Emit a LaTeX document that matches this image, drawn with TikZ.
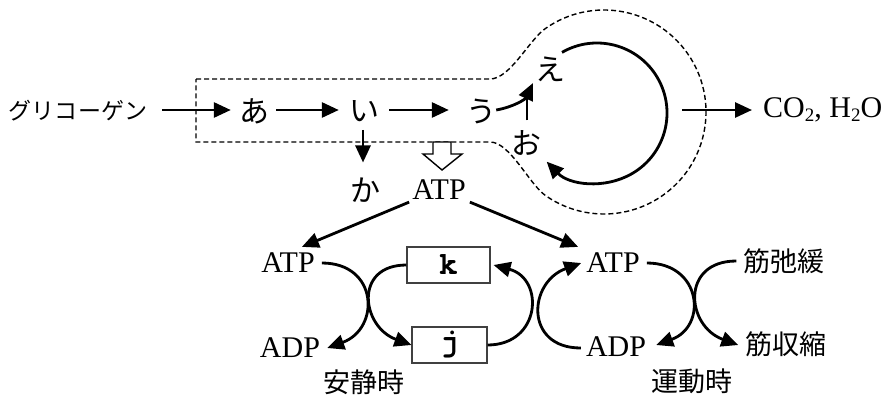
\documentclass[tikz,border=0pt]{standalone}
\usepackage{fontspec}
\setmainfont{Liberation Serif}
\newfontfamily\jpfont{Noto Sans CJK JP}
\newfontfamily\mymono{TeX Gyre Cursor}
\usetikzlibrary{arrows.meta,calc}
\newcommand{\lsub}[1]{\raisebox{-0.12em}{\fontsize{19}{19}\selectfont #1}}
\begin{document}
\begin{tikzpicture}[x=1pt,y=1pt,
 lat/.style={inner sep=0pt, font=\fontsize{30}{30}\selectfont},
 jp/.style={inner sep=0pt, font=\jpfont\fontsize{27}{27}\selectfont},
 hira/.style={inner sep=0pt, font=\jpfont\fontsize{30}{30}\selectfont},
 arr/.style={line width=2.8pt, -{Triangle[length=17pt,width=15pt]}},
 crv/.style={line width=2.8pt},
 box/.style={draw=black!75, line width=1.1pt, inner sep=0pt, minimum height=36pt, font=\mymono\bfseries\fontsize{32}{32}\selectfont},
 outline/.style={line width=1.4pt, dash pattern=on 5pt off 3pt},
]
\useasboundingbox (0,0) rectangle (890,-397);

% top row
\node[inner sep=0pt, font=\jpfont\fontsize{23}{23}\selectfont] (gly) at (78,-111) {グリコーゲン};
\node[hira] (a) at (254,-111) {あ};
\node[hira] (i) at (364,-111) {い};
\node[hira] (u) at (481,-111) {う};
\node[hira] (e) at (550,-69) {え};
\node[hira] (o) at (526,-143) {お};
\node[hira] (ka) at (365,-190) {か};
\node[lat] (atp0) at (439,-190) {ATP};
\node[lat, anchor=west] (co) at (763,-110) {CO\lsub{2}, H\lsub{2}O};

\coordinate (cyc) at (597,-113);
\coordinate (dcyc) at (604,-112);
\coordinate (cout) at (682,-110);

% dashed outline
\draw[outline] (196,-79) -- (490,-79) .. controls (510,-79) and (529,-40) .. ($(dcyc)+(125:102)$)
  arc[start angle=125, end angle=-125, radius=102]
  .. controls (529,-184) and (510,-142) .. (490,-142) -- (196,-142) -- cycle;

% hollow arrow
\draw[line width=1.4pt, fill=white] (433,-142) -- (451,-142) -- (451,-154) -- (462,-154) -- (442,-170) -- (423,-154) -- (433,-154) -- cycle;

% top arrows
\draw[arr] ($(gly.east)+(15,1)$) -- ($(a.west)+(-8,1)$);
\draw[arr] ($(a.east)+(7,1)$) -- ($(i.west)+(-10,1)$);
\draw[arr] ($(i.east)+(10,1)$) -- ($(u.west)+(-17,1)$);
\draw[arr] ($(u.east)+(0,1)$) to[out=10,in=-115] ($(e.center)+(-17,-14)$);
\draw[crv] ($(o.north)+(1,10)$) -- ($(o.north)+(1,37)$);
\draw[arr] ($(cyc)+(120:70)$) arc[start angle=120, end angle=-136, radius=70];
\draw[arr] (cout) -- ($(co.west)+(-11,0)$);
\draw[arr] ($(i.south)+(-1,-8)$) -- ($(ka.north)+(-2,15)$);

% lower part
\node[lat] (atpL) at (288,-263) {ATP};
\node[lat] (adpL) at (290,-348) {ADP};
\node[box, minimum width=83pt] (k) at (448.5,-265) {k};
\node[box, minimum width=75pt] (j) at (449.5,-345) {j};
\node[lat] (atpR) at (613,-263) {ATP};
\node[lat] (adpR) at (616,-347) {ADP};
\node[jp] (relax) at (784,-261) {筋弛緩};
\node[jp] (contr) at (786,-344) {筋収縮};
\node[jp] (rest) at (364,-382) {安静時};
\node[jp] (exer) at (692,-381) {運動時};

\draw[arr] ($(atp0.south west)+(-3,-2)$) -- ($(atpL.north east)+(-13,6)$);
\draw[arr] ($(atp0.south east)+(4,-2)$) -- ($(atpR.north west)+(-8,6)$);

\draw[arr] ($(atpL.east)+(7,0)$) to[out=0,in=20,looseness=1.7] ($(adpL.east)+(7,0)$);
\draw[arr] (k.west) to[out=180,in=160,looseness=1.7] (j.west);
\draw[arr] (j.east) to[out=0,in=-15,looseness=1.7] ($(k.east)+(3,0)$);
\draw[arr] ($(adpR.west)+(-5,-1)$) to[out=180,in=-160,looseness=1.7] ($(atpR.west)+(-5,0)$);
\draw[arr] ($(atpR.east)+(7,0)$) to[out=0,in=20,looseness=1.7] ($(adpR.east)+(10,2)$);
\draw[arr] ($(relax.west)+(-7,0)$) to[out=180,in=160,looseness=1.7] ($(contr.west)+(-7,-1)$);
\end{tikzpicture}
\end{document}
